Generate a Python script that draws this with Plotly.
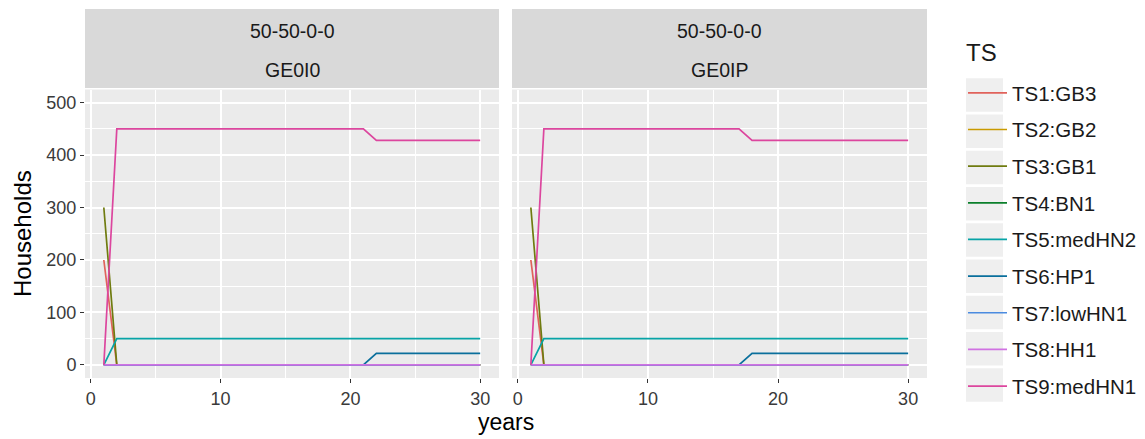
import plotly.graph_objects as go

# ---------------- data ----------------
years = [1, 2, 3, 4, 5, 6, 7, 8, 9, 10, 11, 12, 13, 14, 15,
         16, 17, 18, 19, 20, 21, 22, 23, 24, 25, 26, 27, 28, 29, 30]

series_names = ["TS1:GB3", "TS2:GB2", "TS3:GB1", "TS4:BN1", "TS5:medHN2",
                "TS6:HP1", "TS7:lowHN1", "TS8:HH1", "TS9:medHN1"]
series_colors = ["#E0625B", "#C99A00", "#6F7B0F", "#0B7F2B", "#07A3A6",
                 "#0A6F9C", "#4B8BE0", "#D072E2", "#DC469E"]

scenario_label = "50-50-0-0"
panel_labels = ["GE0I0", "GE0IP"]
x_ticks = [0, 10, 20, 30]
x_minor = [5, 15, 25]
y_ticks = [0, 100, 200, 300, 400, 500]
y_minor = [50, 150, 250, 350, 450]

# panel GE0I0
p1_ts1 = [200, 0, 0, 0, 0, 0, 0, 0, 0, 0, 0, 0, 0, 0, 0, 0, 0, 0, 0, 0, 0, 0, 0, 0, 0, 0, 0, 0, 0, 0]
p1_ts2 = [0, 0, 0, 0, 0, 0, 0, 0, 0, 0, 0, 0, 0, 0, 0, 0, 0, 0, 0, 0, 0, 0, 0, 0, 0, 0, 0, 0, 0, 0]
p1_ts3 = [300, 0, 0, 0, 0, 0, 0, 0, 0, 0, 0, 0, 0, 0, 0, 0, 0, 0, 0, 0, 0, 0, 0, 0, 0, 0, 0, 0, 0, 0]
p1_ts4 = [0, 0, 0, 0, 0, 0, 0, 0, 0, 0, 0, 0, 0, 0, 0, 0, 0, 0, 0, 0, 0, 0, 0, 0, 0, 0, 0, 0, 0, 0]
p1_ts5 = [0, 50, 50, 50, 50, 50, 50, 50, 50, 50, 50, 50, 50, 50, 50, 50, 50, 50, 50, 50, 50, 50, 50, 50, 50, 50, 50, 50, 50, 50]
p1_ts6 = [0, 0, 0, 0, 0, 0, 0, 0, 0, 0, 0, 0, 0, 0, 0, 0, 0, 0, 0, 0, 0, 22, 22, 22, 22, 22, 22, 22, 22, 22]
p1_ts7 = [0, 0, 0, 0, 0, 0, 0, 0, 0, 0, 0, 0, 0, 0, 0, 0, 0, 0, 0, 0, 0, 0, 0, 0, 0, 0, 0, 0, 0, 0]
p1_ts8 = [0, 0, 0, 0, 0, 0, 0, 0, 0, 0, 0, 0, 0, 0, 0, 0, 0, 0, 0, 0, 0, 0, 0, 0, 0, 0, 0, 0, 0, 0]
p1_ts9 = [0, 450, 450, 450, 450, 450, 450, 450, 450, 450, 450, 450, 450, 450, 450, 450, 450, 450, 450, 450, 450,
          428, 428, 428, 428, 428, 428, 428, 428, 428]

# panel GE0IP
p2_ts1 = [200, 0, 0, 0, 0, 0, 0, 0, 0, 0, 0, 0, 0, 0, 0, 0, 0, 0, 0, 0, 0, 0, 0, 0, 0, 0, 0, 0, 0, 0]
p2_ts2 = [0, 0, 0, 0, 0, 0, 0, 0, 0, 0, 0, 0, 0, 0, 0, 0, 0, 0, 0, 0, 0, 0, 0, 0, 0, 0, 0, 0, 0, 0]
p2_ts3 = [300, 0, 0, 0, 0, 0, 0, 0, 0, 0, 0, 0, 0, 0, 0, 0, 0, 0, 0, 0, 0, 0, 0, 0, 0, 0, 0, 0, 0, 0]
p2_ts4 = [0, 0, 0, 0, 0, 0, 0, 0, 0, 0, 0, 0, 0, 0, 0, 0, 0, 0, 0, 0, 0, 0, 0, 0, 0, 0, 0, 0, 0, 0]
p2_ts5 = [0, 50, 50, 50, 50, 50, 50, 50, 50, 50, 50, 50, 50, 50, 50, 50, 50, 50, 50, 50, 50, 50, 50, 50, 50, 50, 50, 50, 50, 50]
p2_ts6 = [0, 0, 0, 0, 0, 0, 0, 0, 0, 0, 0, 0, 0, 0, 0, 0, 0, 22, 22, 22, 22, 22, 22, 22, 22, 22, 22, 22, 22, 22]
p2_ts7 = [0, 0, 0, 0, 0, 0, 0, 0, 0, 0, 0, 0, 0, 0, 0, 0, 0, 0, 0, 0, 0, 0, 0, 0, 0, 0, 0, 0, 0, 0]
p2_ts8 = [0, 0, 0, 0, 0, 0, 0, 0, 0, 0, 0, 0, 0, 0, 0, 0, 0, 0, 0, 0, 0, 0, 0, 0, 0, 0, 0, 0, 0, 0]
p2_ts9 = [0, 450, 450, 450, 450, 450, 450, 450, 450, 450, 450, 450, 450, 450, 450, 450, 450,
          428, 428, 428, 428, 428, 428, 428, 428, 428, 428, 428, 428, 428]

panel1 = [p1_ts1, p1_ts2, p1_ts3, p1_ts4, p1_ts5, p1_ts6, p1_ts7, p1_ts8, p1_ts9]
panel2 = [p2_ts1, p2_ts2, p2_ts3, p2_ts4, p2_ts5, p2_ts6, p2_ts7, p2_ts8, p2_ts9]

# ---------------- figure ----------------
W, H = 1145, 439
FONT = "Liberation Sans, Arial, Helvetica, sans-serif"

fig = go.Figure()

for panel_idx, panel in enumerate([panel1, panel2]):
    xa = "x" if panel_idx == 0 else "x2"
    ya = "y" if panel_idx == 0 else "y2"
    for name, color, vals in zip(series_names, series_colors, panel):
        fig.add_trace(go.Scatter(
            x=years, y=vals, mode="lines", name=name,
            line=dict(color=color, width=1.7),
            xaxis=xa, yaxis=ya,
            legendgroup=name, showlegend=(panel_idx == 0),
        ))

x_domains = [[85 / W, 499 / W], [512 / W, 927 / W]]
y_domain = [1 - 378 / H, 1 - 89.5 / H]

axis_common = dict(
    showgrid=True, gridcolor="white", gridwidth=1.6, zeroline=False,
    ticks="outside", ticklen=4, tickwidth=1.2, tickcolor="#333333",
    tickfont=dict(family=FONT, size=18, color="#3A3A3A"),
    showline=False, automargin=False,
)

for i, dom in enumerate(x_domains):
    key = "xaxis" if i == 0 else "xaxis2"
    fig.layout[key] = dict(
        axis_common, domain=dom, range=[-0.45, 31.45],
        tickmode="array", tickvals=x_ticks, ticktext=[str(v) for v in x_ticks],
        anchor="y" if i == 0 else "y2",
        minor=dict(tickvals=x_minor, showgrid=True, gridcolor="white", gridwidth=0.7, ticks=""),
    )
    ykey = "yaxis" if i == 0 else "yaxis2"
    fig.layout[ykey] = dict(
        axis_common, domain=y_domain, range=[-25, 525],
        tickmode="array", tickvals=y_ticks, ticktext=[str(v) for v in y_ticks],
        anchor="x" if i == 0 else "x2",
        showticklabels=(i == 0), ticks="outside" if i == 0 else "",
        minor=dict(tickvals=y_minor, showgrid=True, gridcolor="white", gridwidth=0.7, ticks=""),
    )

shapes = []
annotations = []
for dom, label in zip(x_domains, panel_labels):
    shapes.append(dict(type="rect", xref="paper", yref="paper",
                       x0=dom[0], x1=dom[1], y0=1 - 88 / H, y1=1 - 9 / H,
                       fillcolor="#D9D9D9", line=dict(width=0), layer="below"))
    cx = (dom[0] + dom[1]) / 2
    annotations.append(dict(text=scenario_label, x=cx, y=1 - 31 / H, xref="paper", yref="paper",
                            showarrow=False, font=dict(family=FONT, size=19.5, color="#1A1A1A"),
                            xanchor="center", yanchor="middle"))
    annotations.append(dict(text=label, x=cx, y=1 - 70 / H, xref="paper", yref="paper",
                            showarrow=False, font=dict(family=FONT, size=19.5, color="#1A1A1A"),
                            xanchor="center", yanchor="middle"))

# axis titles
annotations.append(dict(text="Households", x=22 / W, y=1 - 234 / H, xref="paper", yref="paper",
                        showarrow=False, textangle=-90, font=dict(family=FONT, size=24, color="#000000"),
                        xanchor="center", yanchor="middle"))
annotations.append(dict(text="years", x=506 / W, y=1 - 422 / H, xref="paper", yref="paper",
                        showarrow=False, font=dict(family=FONT, size=23, color="#000000"),
                        xanchor="center", yanchor="middle"))
# legend title
annotations.append(dict(text="TS", x=964 / W, y=1 - 52 / H, xref="paper", yref="paper",
                        showarrow=False, font=dict(family=FONT, size=24, color="#1A1A1A"),
                        xanchor="left", yanchor="middle"))

# legend key backgrounds
for i in range(len(series_names)):
    c = 95 + 36.25 * i
    shapes.append(dict(type="rect", xref="paper", yref="paper",
                       x0=966 / W, x1=1003 / W, y0=1 - (c + 16.8) / H, y1=1 - (c - 16.8) / H,
                       fillcolor="#EFEFEF", line=dict(width=0), layer="below"))

fig.update_layout(
    width=W, height=H,
    margin=dict(l=0, r=0, t=0, b=0),
    paper_bgcolor="white", plot_bgcolor="#EBEBEB",
    font=dict(family=FONT, color="#1A1A1A"),
    shapes=shapes, annotations=annotations,
    legend=dict(
        font=dict(family=FONT, size=20.5, color="#1A1A1A"),
        x=963 / W, y=1 - 73 / H, xanchor="left", yanchor="top",
        bgcolor="rgba(0,0,0,0)", tracegroupgap=7, itemwidth=39,
    ),
)

fig.write_html("out.html", config={"displayModeBar": False},
               post_script="document.body.style.margin='0px';document.body.style.overflow='hidden';")
